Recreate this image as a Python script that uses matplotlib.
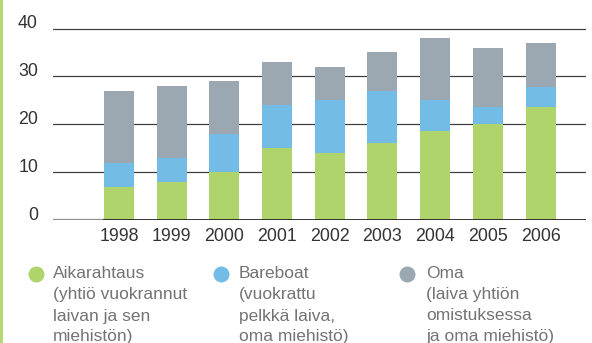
import matplotlib
matplotlib.use('Agg')
from matplotlib import pyplot as plt
from matplotlib import transforms

years = ['1998', '1999', '2000', '2001', '2002', '2003', '2004', '2005', '2006']
aikarahtaus = [7, 8, 10, 15, 14, 16, 18.7, 20, 23.7]
bareboat = [5, 5, 8, 9, 11, 11, 6.3, 3.7, 4]
oma = [15, 15, 11, 9, 7, 8, 13, 12.3, 9.3]

series_names = ['Aikarahtaus', 'Bareboat', 'Oma']
legend_lines = [
    ['Aikarahtaus', '(yhtiö vuokrannut', 'laivan ja sen', 'miehistön)'],
    ['Bareboat', '(vuokrattu', 'pelkkä laiva,', 'oma miehistö)'],
    ['Oma', '(laiva yhtiön', 'omistuksessa', 'ja oma miehistö)'],
]
y_ticks = [0, 10, 20, 30, 40]

GREEN = '#b0d46c'
BLUE = '#72bce6'
GREY = '#9ca8b1'
colors = [GREEN, BLUE, GREY]

W, H = 592, 343
plt.rcParams['font.family'] = ['Liberation Sans', 'DejaVu Sans']

fig = plt.figure(figsize=(W / 100, H / 100), dpi=100)

# axes placed in pixel terms
left_px, right_px = 53, 586
bottom_px = 123
height_px = 201
ax = fig.add_axes([left_px / W, bottom_px / H, (right_px - left_px) / W, height_px / H])

x = list(range(len(years)))
bar_w = 0.57
x_lo = -1.252
x_hi = x_lo + (right_px - left_px) / 52.7

# gridlines
for v in y_ticks[1:]:
    ax.axhline(v, color='#404040', lw=0.9, zorder=1)

bottoms = [0] * len(years)
for vals, col in zip([aikarahtaus, bareboat, oma], colors):
    ax.bar(x, vals, width=bar_w, bottom=bottoms, color=col, zorder=2, linewidth=0)
    bottoms = [b + v for b, v in zip(bottoms, vals)]

# zero line: grey at left, dark under the bars
split = (-bar_w / 2 - x_lo) / (x_hi - x_lo)
ax.axhline(0, xmin=0, xmax=split, color='#8c8c8c', lw=1.6, zorder=3)
ax.axhline(0, xmin=split, xmax=1, color='#222222', lw=2.0, zorder=3)

ax.set_xlim(x_lo, x_hi)
ax.set_ylim(0, 42)
for s in ax.spines.values():
    s.set_visible(False)
ax.set_yticks([])
ax.set_xticks(x)
ax.set_xticklabels(years, fontsize=12.8, color='#333333')
ax.tick_params(axis='x', length=0, pad=6)

# y labels sit slightly above their lines
trans = transforms.blended_transform_factory(fig.transFigure, ax.transData)
for v in y_ticks:
    ax.annotate(str(v), xy=(38 / W, v), xycoords=trans, xytext=(0, 3.5),
                textcoords='offset points', ha='right', va='center',
                fontsize=12.8, color='#333333', annotation_clip=False)

# left green border
fig.add_artist(plt.Line2D([1 / W, 1 / W], [0, 1], color='#b5d873', lw=2.2,
                          transform=fig.transFigure))

# legend built by hand
circle_x = [35.7, 221, 407]
text_x = [53, 239, 426]
line_y = [274, 295, 316, 336.5]
for i in range(3):
    fig.add_artist(plt.Line2D([circle_x[i] / W], [1 - line_y[0] / H], marker='o',
                              markersize=11.5, color=colors[i], markeredgewidth=0,
                              transform=fig.transFigure))
    for j, line in enumerate(legend_lines[i]):
        fig.text(text_x[i] / W, 1 - line_y[j] / H, line, ha='left', va='center',
                 fontsize=12.5, color='#737373')

plt.savefig('out.png', dpi=100)
